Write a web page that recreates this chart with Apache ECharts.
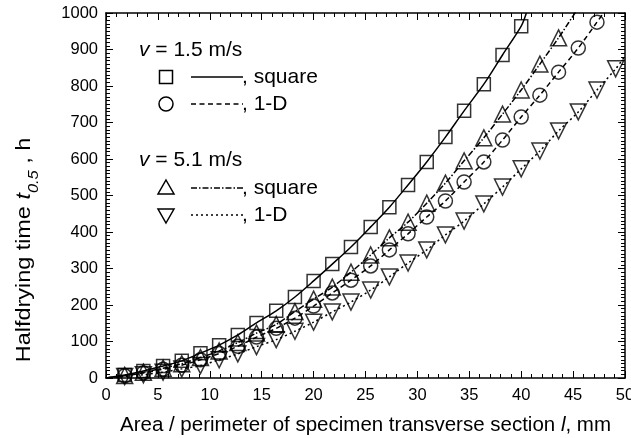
<!DOCTYPE html>
<html>
<head>
<meta charset="utf-8">
<script src="https://cdn.jsdelivr.net/npm/echarts@6/dist/echarts.min.js"></script>
<style>
  html, body { margin: 0; padding: 0; background: #fff; }
  #chart { width: 631px; height: 438px; }
</style>
</head>
<body>
<div id="chart"></div>
<script>
// 数据：横坐标 l (mm)
var xVals = [1.8, 3.6, 5.5, 7.3, 9.1, 10.9, 12.7, 14.5, 16.4, 18.2, 20.0, 21.8, 23.6, 25.5,
    27.3, 29.1, 30.9, 32.7, 34.5, 36.4, 38.2, 40.0, 41.8, 43.6, 45.5, 47.3, 49.1];
// v = 1.5 m/s
var sq15 = [8, 19, 33, 47, 68, 90, 118, 151, 184, 222, 266, 312, 359, 414, 468, 529, 592, 660, 732, 805, 885, 964];
var od15 = [6, 14, 24, 35, 50, 67, 87, 112, 136, 164, 197, 233, 268, 307, 351, 395, 441, 485, 537, 592, 652, 715, 775, 838, 904, 975];
// v = 5.1 m/s
var sq51 = [7, 16, 27, 39, 56, 74, 97, 123, 147, 182, 216, 249, 290, 337, 384, 427, 479, 534, 595, 658, 723, 789, 860, 932, 1013];
var od51 = [4, 9, 16, 25, 34, 50, 66, 86, 105, 128, 153, 181, 208, 241, 277, 315, 351, 392, 430, 477, 523, 573, 622, 677, 729, 789, 847];
// 曲线两端
var sq15End = [40.5, 1000];
var od15End = [48.0, 1003];
var sq51End = [46.5, 1050];
var od51End = [50, 882];

var FONT = 'Liberation Sans';

function pts(ys) {
    var out = [];
    for (var i = 0; i < ys.length; i++) {
        out.push([xVals[i], ys[i]]);
    }
    return out;
}
function curve(ys, end) {
    return [[0, 0]].concat(pts(ys), [end]);
}

var chart = echarts.init(document.getElementById('chart'));

// 坐标轴（刻度朝内）
function makeAxis(type, pos, max, interval, minorSplit, showLabel) {
    return {
        type: 'value', min: 0, max: max, interval: interval, position: pos,
        axisLine: { show: true, onZero: false, lineStyle: { color: '#000', width: 1.5 } },
        axisTick: { show: true, inside: true, length: 7, lineStyle: { color: '#000', width: 1 } },
        minorTick: { show: true, splitNumber: minorSplit, length: 4, lineStyle: { color: '#000', width: 1 } },
        splitLine: { show: false },
        axisLabel: showLabel ? { show: true, inside: false, color: '#000', fontSize: 16.5, fontFamily: FONT,
            margin: type == 'x' ? 9 : 8, formatter: function(v) { return String(v); } } : { show: false }
    };
}

function lineSeries(data, type) {
    return {
        type: 'line',
        data: data,
        smooth: 0.3,
        showSymbol: false,
        symbol: 'none',
        lineStyle: { color: '#000', width: 1.5, type: type },
        z: 2
    };
}
function markSeries(data, symbol, size, rotate) {
    return {
        type: 'scatter',
        data: data,
        symbol: symbol,
        symbolSize: size,
        symbolRotate: rotate || 0,
        itemStyle: { color: 'rgba(0,0,0,0)', borderColor: '#000', borderWidth: 1.5 },
        z: 3
    };
}

// 图例（手绘）
var legendRows = [
    { y: 77, symbol: 'rect', dash: 'solid', text: ', square' },
    { y: 104, symbol: 'circle', dash: [5, 3.5], text: ', 1-D' },
    { y: 188, symbol: 'up', dash: [6, 2, 1.5, 2], text: ', square' },
    { y: 215, symbol: 'down', dash: [2, 3], text: ', 1-D' }
];
var italicRich = { i: { fontStyle: 'italic', fontSize: 21, fontFamily: FONT, fill: '#000' } };
var graphics = [
    { type: 'text', x: 139, y: 50, style: { text: '{i|v} = 1.5 m/s', font: '21px ' + FONT, fill: '#000',
        verticalAlign: 'middle', rich: italicRich } },
    { type: 'text', x: 139, y: 160, style: { text: '{i|v} = 5.1 m/s', font: '21px ' + FONT, fill: '#000',
        verticalAlign: 'middle', rich: italicRich } },
    // 纵轴标题
    { type: 'text', x: 24, y: 250, rotation: Math.PI / 2, scaleX: 1.17,
        style: {
            text: '{a|Halfdrying time }{t|t}{s|0.5}{a| , h}',
            align: 'center', verticalAlign: 'middle', fill: '#000',
            rich: {
                a: { fontSize: 20, fontFamily: FONT, fill: '#000', lineHeight: 24 },
                t: { fontSize: 20, fontFamily: FONT, fontStyle: 'italic', fill: '#000', lineHeight: 24 },
                s: { fontSize: 14, fontFamily: FONT, fontStyle: 'italic', fill: '#000', verticalAlign: 'bottom', lineHeight: 34 }
            }
        } }
];
legendRows.forEach(function(r) {
    var cx = 166;
    var shape;
    if (r.symbol == 'rect') {
        shape = { type: 'rect', shape: { x: cx - 6.5, y: r.y - 6.5, width: 13, height: 13 } };
    } else if (r.symbol == 'circle') {
        shape = { type: 'circle', shape: { cx: cx, cy: r.y, r: 7 } };
    } else if (r.symbol == 'up') {
        shape = { type: 'polygon', shape: { points: [[cx, r.y - 8], [cx + 8, r.y + 6], [cx - 8, r.y + 6]] } };
    } else {
        shape = { type: 'polygon', shape: { points: [[cx, r.y + 8], [cx + 8, r.y - 6], [cx - 8, r.y - 6]] } };
    }
    shape.style = { fill: 'none', stroke: '#000', lineWidth: 1.5 };
    graphics.push(shape);
    graphics.push({ type: 'line', shape: { x1: 191, y1: r.y, x2: 243, y2: r.y },
        style: { stroke: '#000', lineWidth: 1.5, lineDash: r.dash == 'solid' ? null : r.dash } });
    graphics.push({ type: 'text', x: 242, y: r.y, style: { text: r.text, font: '21px ' + FONT, fill: '#000', verticalAlign: 'middle' } });
});

var xMain = makeAxis('x', 'bottom', 50, 5, 5, true);
xMain.name = '{a|Area / perimeter of specimen transverse section }{i|l}{a|, mm}';
xMain.nameLocation = 'middle';
xMain.nameGap = 37;
xMain.nameTextStyle = { rich: {
    a: { fontSize: 20.5, fontFamily: FONT, color: '#000' },
    i: { fontSize: 20.5, fontFamily: FONT, fontStyle: 'italic', color: '#000' }
} };

var option = {
    backgroundColor: '#fff',
    animation: false,
    grid: { left: 106, right: 6, top: 13, bottom: 60, outerBoundsMode: 'none', containLabel: false },
    xAxis: [xMain, makeAxis('x', 'top', 50, 5, 5, false)],
    yAxis: [makeAxis('y', 'left', 1000, 100, 10, true), makeAxis('y', 'right', 1000, 100, 10, false)],
    series: [
        lineSeries(curve(sq15, sq15End), 'solid'),
        lineSeries(curve(od15, od15End), [5, 3.5]),
        lineSeries(curve(sq51, sq51End), [6, 2, 1.5, 2]),
        lineSeries(curve(od51, od51End), [2, 3]),
        markSeries(pts(sq15), 'rect', 13),
        markSeries(pts(od15), 'circle', 14),
        markSeries(pts(sq51), 'triangle', 16),
        markSeries(pts(od51), 'triangle', 16, 180)
    ],
    graphic: graphics
};

chart.setOption(option);
</script>
</body>
</html>
